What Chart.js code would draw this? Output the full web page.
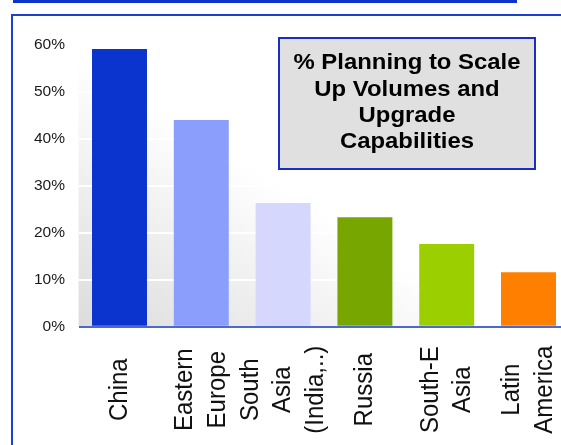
<!DOCTYPE html>
<html>
<head>
<meta charset="utf-8">
<script src="https://cdn.jsdelivr.net/npm/chart.js@4.4.1/dist/chart.umd.min.js"></script>
<style>
  html, body { margin: 0; padding: 0; background: #fff; overflow: hidden; width: 561px; height: 445px; }
  .topbar { position: absolute; left: 13px; top: 0; width: 504px; height: 3px; background: #0c33cc; }
  .frame { position: absolute; left: 11px; top: 14px; width: 600px; height: 500px; border: 2px solid #1b40d8; }
  #chart { position: absolute; left: 0; top: 0; }
</style>
</head>
<body>
<div class="topbar"></div>
<div class="frame"></div>
<canvas id="chart" width="572" height="445"></canvas>
<script>
// regions, one array of lines per category label
const regions = [
    ['China'],
    ['Eastern', 'Europe'],
    ['South', 'Asia', '(India,..)'],
    ['Russia'],
    ['South-E', 'Asia'],
    ['Latin', 'America']
];
// share of firms planning to scale up, in percent
const planningShare = [59.1, 44.0, 26.3, 23.3, 17.6, 11.6];
const barColors = ['#0b33cd', '#8c9efb', '#d5d8fc', '#77a600', '#9ccf00', '#ff7f00'];
const yTicks = [0, 10, 20, 30, 40, 50, 60];
const boxTitle = ['% Planning to Scale', 'Up Volumes and', 'Upgrade', 'Capabilities'];

const FONT = '"Liberation Sans", Arial, Helvetica, sans-serif';
const STRETCH = 1.09;

// grey-to-white diagonal fill behind the bars
const plotBackground = {
    id: 'plotBackground',
    beforeDraw(chart) {
        const { ctx, chartArea: a } = chart;
        const g = ctx.createLinearGradient(a.left, a.bottom, a.left + 123, a.bottom - 191);
        g.addColorStop(0, '#dcdcdc');
        g.addColorStop(1, '#ffffff');
        ctx.save();
        ctx.fillStyle = g;
        ctx.fillRect(a.left, a.top, a.right - a.left, a.bottom - a.top);
        ctx.restore();
    }
};

// rotated, centred category labels under each bar
const regionLabels = {
    id: 'regionLabels',
    afterDraw(chart) {
        const { ctx, chartArea: a } = chart;
        const xs = chart.scales.x;
        ctx.save();
        ctx.font = '24px ' + FONT;
        ctx.fillStyle = '#111';
        ctx.textAlign = 'center';
        ctx.textBaseline = 'middle';
        regions.forEach((lines, i) => {
            const cx = xs.getPixelForValue(i);
            lines.forEach((line, j) => {
                const off = (j - (lines.length - 1) / 2) * 32.5;
                ctx.save();
                ctx.translate(cx + off, a.bottom + 63);
                ctx.scale(STRETCH, 1);
                ctx.rotate(-Math.PI / 2);
                ctx.fillText(line, 0, 0);
                ctx.restore();
            });
        });
        ctx.restore();
    }
};

// boxed caption in the top right of the plot
const captionBox = {
    id: 'captionBox',
    afterDraw(chart) {
        const { ctx } = chart;
        ctx.save();
        ctx.fillStyle = '#e0e0e0';
        ctx.fillRect(278, 37, 258, 133);
        ctx.strokeStyle = '#1a2fbd';
        ctx.lineWidth = 2;
        ctx.strokeRect(279, 38, 256, 131);
        ctx.font = 'bold 22px ' + FONT;
        ctx.fillStyle = '#000';
        ctx.textAlign = 'center';
        ctx.textBaseline = 'alphabetic';
        boxTitle.forEach((line, i) => {
            ctx.save();
            ctx.translate(407, 69.3 + i * 26.35);
            ctx.scale(1.086, 1);
            ctx.fillText(line, 0, 0);
            ctx.restore();
        });
        ctx.restore();
    }
};

new Chart(document.getElementById('chart'), {
    type: 'bar',
    data: {
        labels: regions.map(r => r.join(' ')),
        datasets: [{
            data: planningShare,
            backgroundColor: barColors,
            borderWidth: 0,
            categoryPercentage: 1,
            barPercentage: 0.672
        }]
    },
    options: {
        responsive: false,
        animation: false,
        devicePixelRatio: 1,
        layout: { padding: { top: 44.7, right: 2.6, bottom: 118.3, left: 0 } },
        plugins: {
            legend: { display: false },
            tooltip: { enabled: false }
        },
        scales: {
            x: { display: false },
            y: {
                min: 0,
                max: 60,
                afterFit: s => { s.width = 78.6; },
                afterBuildTicks: s => { s.ticks = yTicks.map(v => ({ value: v })); },
                border: { display: false },
                grid: {
                    drawTicks: false,
                    lineWidth: 2,
                    color: c => c.tick.value === 0 ? '#4a68d6' : '#ffffff'
                },
                ticks: {
                    padding: 13.6,
                    color: '#1a1a1a',
                    font: { family: FONT, size: 15.5 },
                    callback: v => v + '%'
                }
            }
        }
    },
    plugins: [plotBackground, regionLabels, captionBox]
});
</script>
</body>
</html>
